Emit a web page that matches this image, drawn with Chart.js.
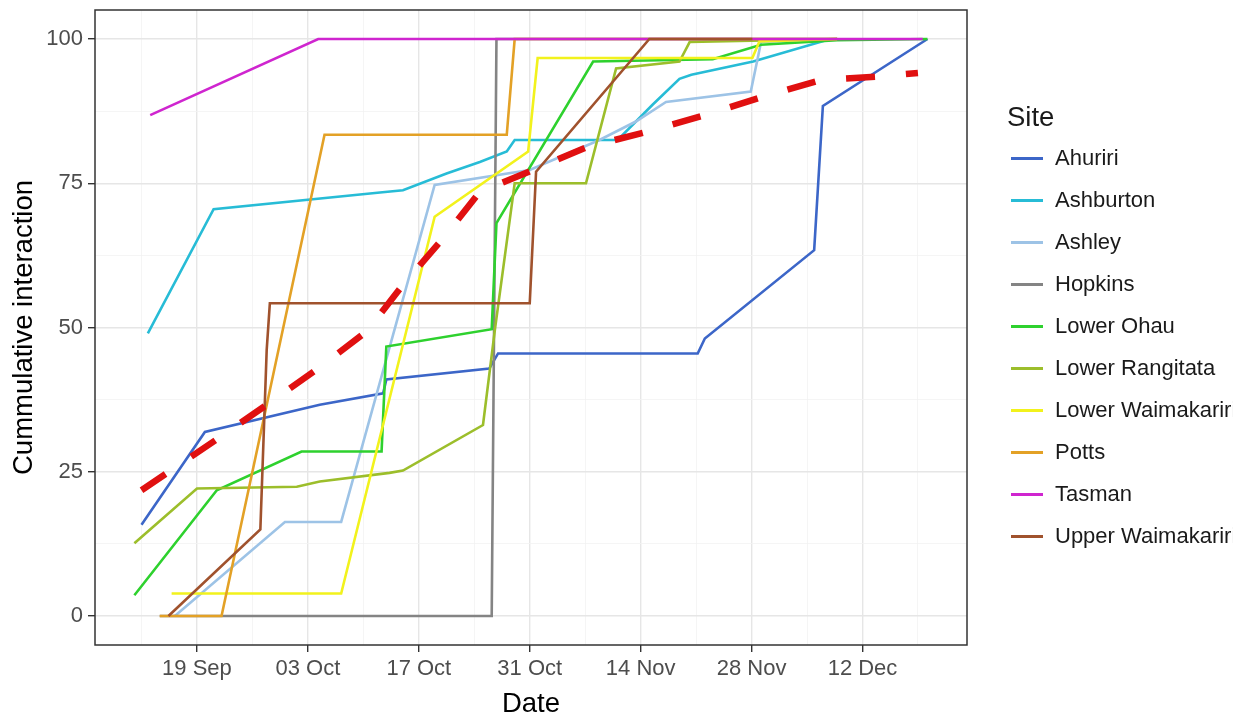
<!DOCTYPE html>
<html>
<head>
<meta charset="utf-8">
<script src="https://cdn.jsdelivr.net/npm/chart.js@4.4.0/dist/chart.umd.min.js"></script>
<style>
  html, body { margin: 0; padding: 0; background: #fff; overflow: hidden; }
  #wrap { position: relative; width: 1250px; height: 718px; }
  #legend {
    position: absolute; left: 1000px; top: 0; width: 233px; height: 718px;
    overflow: hidden; font-family: "Liberation Sans", Arial, sans-serif; color: #1a1a1a;
  }
  .legend-title { position: absolute; left: 7px; top: 103px; font-size: 27.5px; line-height: 1; }
  .legend-row {
    position: absolute; left: 11px; height: 42px; display: flex; align-items: center;
    white-space: nowrap; font-size: 22px; line-height: 1;
  }
  .legend-key { width: 32px; height: 3px; margin-right: 12px; flex: none; }
</style>
</head>
<body>
<div id="wrap">
  <canvas id="chart" width="1250" height="718"></canvas>
  <div id="legend"></div>
</div>
<script>
// === Data (x = days after 1 Sep, y = cumulative interaction %) ===
const sites = ["Ahuriri", "Ashburton", "Ashley", "Hopkins", "Lower Ohau",
  "Lower Rangitata", "Lower Waimakariri", "Potts", "Tasman", "Upper Waimakariri"];

const ahuriri = [[11.0, 15.8], [19.0, 31.9], [33.5, 36.6], [41.5, 38.6], [41.9, 41.0],
  [54.9, 42.9], [56.0, 45.5], [81.2, 45.5], [82.1, 48.1], [95.9, 63.4], [97.0, 88.4], [110.2, 100]];
const ashburton = [[11.8, 49.0], [20.1, 70.5], [41.1, 73.4], [44.0, 73.8], [49.5, 76.7],
  [53.7, 78.7], [57.1, 80.5], [58.1, 82.5], [71.1, 82.5], [75.5, 88.6], [78.9, 93.1],
  [80.4, 93.8], [88.2, 96.1], [97.4, 99.8], [98.8, 100]];
const ashley = [[15.2, 0], [29.1, 16.3], [36.2, 16.3], [48.0, 74.7], [60.0, 77.3],
  [68.8, 82.5], [73.4, 85.7], [77.2, 89.1], [87.9, 90.9], [89.2, 99.5], [98.8, 100]];
const hopkins = [[13.3, 0], [55.2, 0], [55.8, 100], [98.8, 100]];
const lowerOhau = [[10.1, 3.6], [20.5, 21.8], [31.2, 28.5], [41.3, 28.5], [41.9, 46.7],
  [55.2, 49.7], [55.8, 68.1], [68.0, 96.1], [83.1, 96.5], [89.2, 99.0], [98.8, 99.8], [110.2, 100]];
const lowerRangitata = [[10.1, 12.6], [18.0, 22.1], [30.6, 22.4], [33.5, 23.3], [42.3, 24.8],
  [44.0, 25.2], [54.1, 33.1], [55.6, 49.6], [58.1, 75.0], [67.1, 75.0], [70.9, 94.9],
  [78.9, 96.1], [80.2, 99.5], [98.8, 100]];
const lowerWaimakariri = [[14.8, 3.9], [36.2, 3.9], [48.0, 69.2], [59.8, 80.5], [61.0, 96.7],
  [88.1, 96.7], [89.0, 99.6], [98.8, 100]];
const potts = [[13.3, 0], [21.1, 0], [34.1, 83.4], [57.1, 83.4], [58.1, 100], [98.8, 100]];
const tasman = [[12.1, 86.8], [33.3, 100], [109.6, 100]];
const upperWaimakariri = [[14.4, 0], [26.0, 15.0], [26.8, 46.1], [27.2, 54.2], [60.0, 54.2],
  [60.8, 77.0], [75.1, 100], [88.1, 100]];

// overall trend (red dashed)
const trend = [[11.0, 21.8], [20.7, 30.8], [26.8, 36.6], [33.3, 42.9], [39.4, 49.3],
  [44.0, 57.4], [49.1, 65.5], [53.7, 73.5], [60.4, 77.3], [67.3, 81.3], [74.7, 83.9],
  [82.1, 86.8], [89.4, 90.0], [96.8, 92.9], [103.9, 93.5], [109.0, 94.1]];

const siteSeries = [ahuriri, ashburton, ashley, hopkins, lowerOhau,
  lowerRangitata, lowerWaimakariri, potts, tasman, upperWaimakariri];

const tickDays = [18, 32, 46, 60, 74, 88, 102];
const tickLabels = ["19 Sep", "03 Oct", "17 Oct", "31 Oct", "14 Nov", "28 Nov", "12 Dec"];
const minorDays = [11, 25, 39, 53, 67, 81, 95, 109];
const yTicks = [0, 25, 50, 75, 100];
const yMinor = [12.5, 37.5, 62.5, 87.5];

// === Styles ===
const siteColors = ["#3C66C8", "#27BCD6", "#9DC3E6", "#848484", "#2ED12E",
  "#9CBE2B", "#F2F21C", "#E3A126", "#CF25CF", "#A0522D"];
const FONT = "'Liberation Sans', Arial, sans-serif";

const toPoints = (arr) => arr.map(([x, y]) => ({ x, y }));

const datasets = siteSeries.map((s, i) => ({
  label: sites[i],
  data: toPoints(s),
  borderColor: siteColors[i],
  borderWidth: 2.6,
  pointRadius: 0,
  fill: false,
  order: sites.length - i, // later sites drawn on top, like ggplot
}));
datasets.push({
  label: "Trend",
  data: toPoints(trend),
  borderColor: "#E01010",
  borderWidth: 6.5,
  borderDash: [29, 31],
  pointRadius: 0,
  fill: false,
  order: 0,
});

// panel border on top of the lines
const panelBorder = {
  id: "panelBorder",
  afterDatasetsDraw(chart) {
    const { ctx, chartArea: a } = chart;
    ctx.save();
    ctx.strokeStyle = "#333333";
    ctx.lineWidth = 1.5;
    ctx.strokeRect(a.left, a.top, a.right - a.left, a.bottom - a.top);
    ctx.restore();
  },
};

const isMajorX = (v) => tickDays.includes(v);
const isMajorY = (v) => yTicks.includes(v);

new Chart(document.getElementById("chart"), {
  type: "line",
  data: { datasets },
  options: {
    responsive: false,
    animation: false,
    layout: { padding: { top: 10, right: 283, bottom: 0, left: 0 } },
    plugins: { legend: { display: false }, tooltip: { enabled: false } },
    scales: {
      x: {
        type: "linear",
        min: 5.13,
        max: 115.19,
        bounds: "data",
        afterBuildTicks: (s) => {
          s.ticks = [...minorDays, ...tickDays].sort((a, b) => a - b).map((v) => ({ value: v }));
        },
        afterFit: (s) => {
          s.height = 73;
          s.paddingLeft = 0;
          s.paddingRight = 0;
        },
        ticks: {
          autoSkip: false,
          maxRotation: 0,
          padding: 4,
          color: "#4D4D4D",
          font: { family: FONT, size: 22 },
          callback: (v) => {
            const k = tickDays.indexOf(v);
            return k >= 0 ? tickLabels[k] : "";
          },
        },
        grid: {
          color: (c) => (isMajorX(c.tick && c.tick.value) ? "#E6E6E6" : "#F3F3F3"),
          lineWidth: (c) => (isMajorX(c.tick && c.tick.value) ? 1.4 : 0.8),
          tickColor: (c) => (isMajorX(c.tick && c.tick.value) ? "#333333" : "rgba(0,0,0,0)"),
          tickWidth: 1.4,
          tickLength: 7,
        },
        border: { display: false },
        title: {
          display: true,
          text: "Date",
          color: "#000",
          font: { family: FONT, size: 27.5, lineHeight: 1 },
          padding: { top: 0, bottom: 0 },
        },
      },
      y: {
        type: "linear",
        min: -5.03,
        max: 105.03,
        bounds: "data",
        afterBuildTicks: (s) => {
          s.ticks = [...yTicks, ...yMinor].sort((a, b) => a - b).map((v) => ({ value: v }));
        },
        afterFit: (s) => {
          s.width = 95;
          s.paddingTop = 0;
          s.paddingBottom = 0;
        },
        ticks: {
          autoSkip: false,
          padding: 5,
          color: "#4D4D4D",
          font: { family: FONT, size: 22 },
          callback: (v) => (isMajorY(v) ? String(v) : ""),
        },
        grid: {
          color: (c) => (isMajorY(c.tick && c.tick.value) ? "#E6E6E6" : "#F3F3F3"),
          lineWidth: (c) => (isMajorY(c.tick && c.tick.value) ? 1.4 : 0.8),
          tickColor: (c) => (isMajorY(c.tick && c.tick.value) ? "#333333" : "rgba(0,0,0,0)"),
          tickWidth: 1.4,
          tickLength: 7,
        },
        border: { display: false },
        title: {
          display: true,
          text: "Cummulative interaction",
          color: "#000",
          font: { family: FONT, size: 27.5, lineHeight: 1 },
          padding: { top: 11, bottom: 0 },
        },
      },
    },
  },
  plugins: [panelBorder],
});

// === HTML legend ===
function buildLegend() {
  const box = document.getElementById("legend");
  const title = document.createElement("div");
  title.className = "legend-title";
  title.textContent = "Site";
  box.appendChild(title);
  sites.forEach((name, i) => {
    const row = document.createElement("div");
    row.className = "legend-row";
    row.style.top = 137 + 42 * i + "px";
    const key = document.createElement("span");
    key.className = "legend-key";
    key.style.background = siteColors[i];
    const txt = document.createElement("span");
    txt.textContent = name;
    row.appendChild(key);
    row.appendChild(txt);
    box.appendChild(row);
  });
}
buildLegend();
</script>
</body>
</html>
